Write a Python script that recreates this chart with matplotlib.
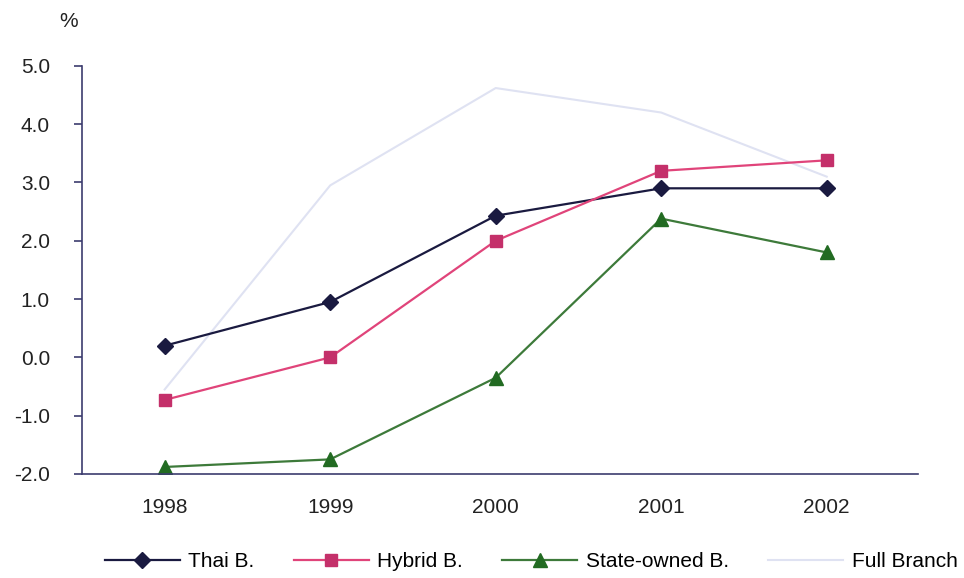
import numpy as np
import matplotlib.pyplot as plt

plt.rcParams['font.family'] = ['Liberation Sans', 'DejaVu Sans']

years = ['1998', '1999', '2000', '2001', '2002']
thai = [0.2, 0.95, 2.43, 2.9, 2.9]
hybrid = [-0.73, 0.0, 2.0, 3.2, 3.38]
state = [-1.88, -1.75, -0.35, 2.38, 1.8]
full = [-0.55, 2.95, 4.62, 4.2, 3.1]

x = np.arange(len(years))
axis_col = '#3c3c6e'
txt_col = '#222222'

fig = plt.figure(figsize=(9.64, 5.78), dpi=100)
ax = fig.add_axes([0.085, 0.18, 0.867, 0.706])

ax.plot(x, full, color='#dfe2f2', lw=1.5, label='Full Branch')
ax.plot(x, thai, color='#1a1a40', lw=1.6, marker='D', ms=8, label='Thai B.')
ax.plot(x, hybrid, color='#e0447a', lw=1.6, marker='s', ms=9,
        mfc='#c4306a', mec='#c4306a', label='Hybrid B.')
ax.plot(x, state, color='#3d7a3a', lw=1.6, marker='^', ms=10,
        mfc='#226b22', mec='#226b22', label='State-owned B.')

ax.set_xlim(-0.5, 4.55)
ax.set_ylim(-2.0, 5.0)
ax.set_yticks(np.arange(-2, 5.1, 1))
ax.set_yticklabels(['%.1f' % v for v in np.arange(-2, 5.1, 1)])
ax.set_xticks(x)
ax.set_xticklabels(years)

for s in ['top', 'right']:
    ax.spines[s].set_visible(False)
for s in ['left', 'bottom']:
    ax.spines[s].set_color(axis_col)
    ax.spines[s].set_linewidth(1.2)
ax.tick_params(axis='y', colors=axis_col, length=6, width=1.2, labelsize=15,
               labelcolor=txt_col, pad=17)
ax.tick_params(axis='x', length=0, labelsize=15, labelcolor=txt_col, pad=17)

fig.text(0.071, 0.962, '%', fontsize=15, color=txt_col, ha='center', va='center')

h, l = ax.get_legend_handles_labels()
order = [1, 2, 3, 0]
fig.legend([h[i] for i in order], [l[i] for i in order], loc='lower center',
           ncol=4, frameon=False, fontsize=15, bbox_to_anchor=(0.551, -0.02),
           handlelength=3.6, columnspacing=1.9, handletextpad=0.4)

plt.savefig('out.png')
